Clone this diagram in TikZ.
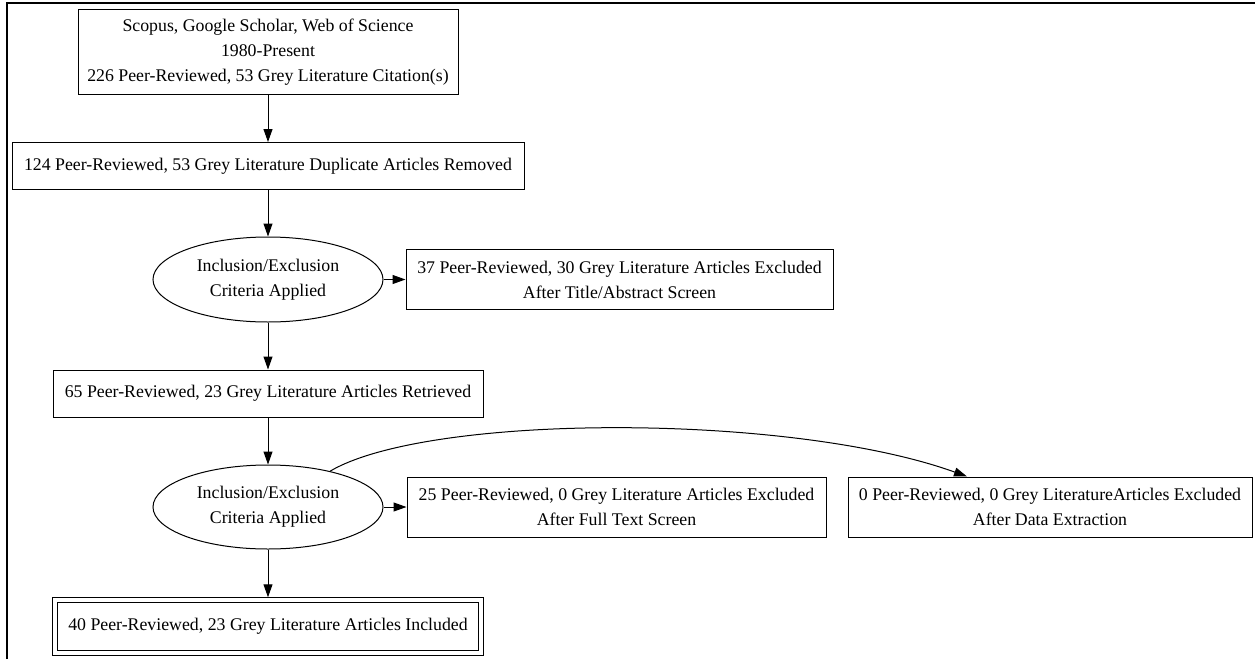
\documentclass[tikz,border=0pt]{standalone}
\usepackage{fontspec}
\setmainfont{Liberation Serif}
\usetikzlibrary{shapes.geometric,arrows.meta}
\begin{document}
\begin{tikzpicture}[x=1pt,y=-1pt,
  every node/.style={font=\fontsize{17.8}{25}\selectfont, align=center, inner sep=0pt, line width=1pt},
  boxnode/.style={draw, rectangle},
  ellnode/.style={draw, ellipse},
  finalnode/.style={draw, rectangle, double, double distance=4pt, outer sep=3pt},
  arr/.style={-{Triangle[length=13pt,width=9pt]}, line width=1pt}
]
\useasboundingbox (0,0) rectangle (1255,659);
\draw[line width=2pt] (7,659) -- (7,3.3) -- (1255,3.3);

\node[boxnode, minimum width=380pt, minimum height=85pt] (src) at (268,52) {Scopus, Google Scholar, Web of Science\\1980-Present\\226 Peer-Reviewed, 53 Grey Literature Citation(s)};
\node[boxnode, minimum width=512pt, minimum height=47pt] (dup) at (268,166) {124 Peer-Reviewed, 53 Grey Literature Duplicate Articles Removed};
\node[ellnode, minimum width=230pt, minimum height=85pt] (crit1) at (268,279.5) {Inclusion/Exclusion\\Criteria Applied};
\node[boxnode, minimum width=427pt, minimum height=60pt] (exc1) at (619.5,279.5) {37 Peer-Reviewed, 30 Grey Literature Articles Excluded\\After Title/Abstract Screen};
\node[boxnode, minimum width=430pt, minimum height=47pt] (ret) at (268,393.5) {65 Peer-Reviewed, 23 Grey Literature Articles Retrieved};
\node[ellnode, minimum width=230pt, minimum height=84pt] (crit2) at (268,507) {Inclusion/Exclusion\\Criteria Applied};
\node[boxnode, minimum width=419pt, minimum height=60pt] (exc2) at (616.5,507) {25 Peer-Reviewed, 0 Grey Literature Articles Excluded\\After Full Text Screen};
\node[boxnode, minimum width=404pt, minimum height=60pt] (exc3) at (1050,507) {0 Peer-Reviewed, 0 Grey LiteratureArticles Excluded\\After Data Extraction};
\node[finalnode, minimum width=426pt, minimum height=52.5pt] (inc) at (268,626.5) {40 Peer-Reviewed, 23 Grey Literature Articles Included};

\draw[arr] (src) -- (dup);
\draw[arr] (dup) -- (crit1);
\draw[arr] (crit1) -- (exc1);
\draw[arr] (crit1) -- (ret);
\draw[arr] (ret) -- (crit2);
\draw[arr] (crit2) -- (exc2);
\draw[arr] (crit2) -- (inc);
\draw[arr] (crit2.30.5) .. controls (429,413) and (791,413) .. ([xshift=-83pt]exc3.north);
\end{tikzpicture}
\end{document}
